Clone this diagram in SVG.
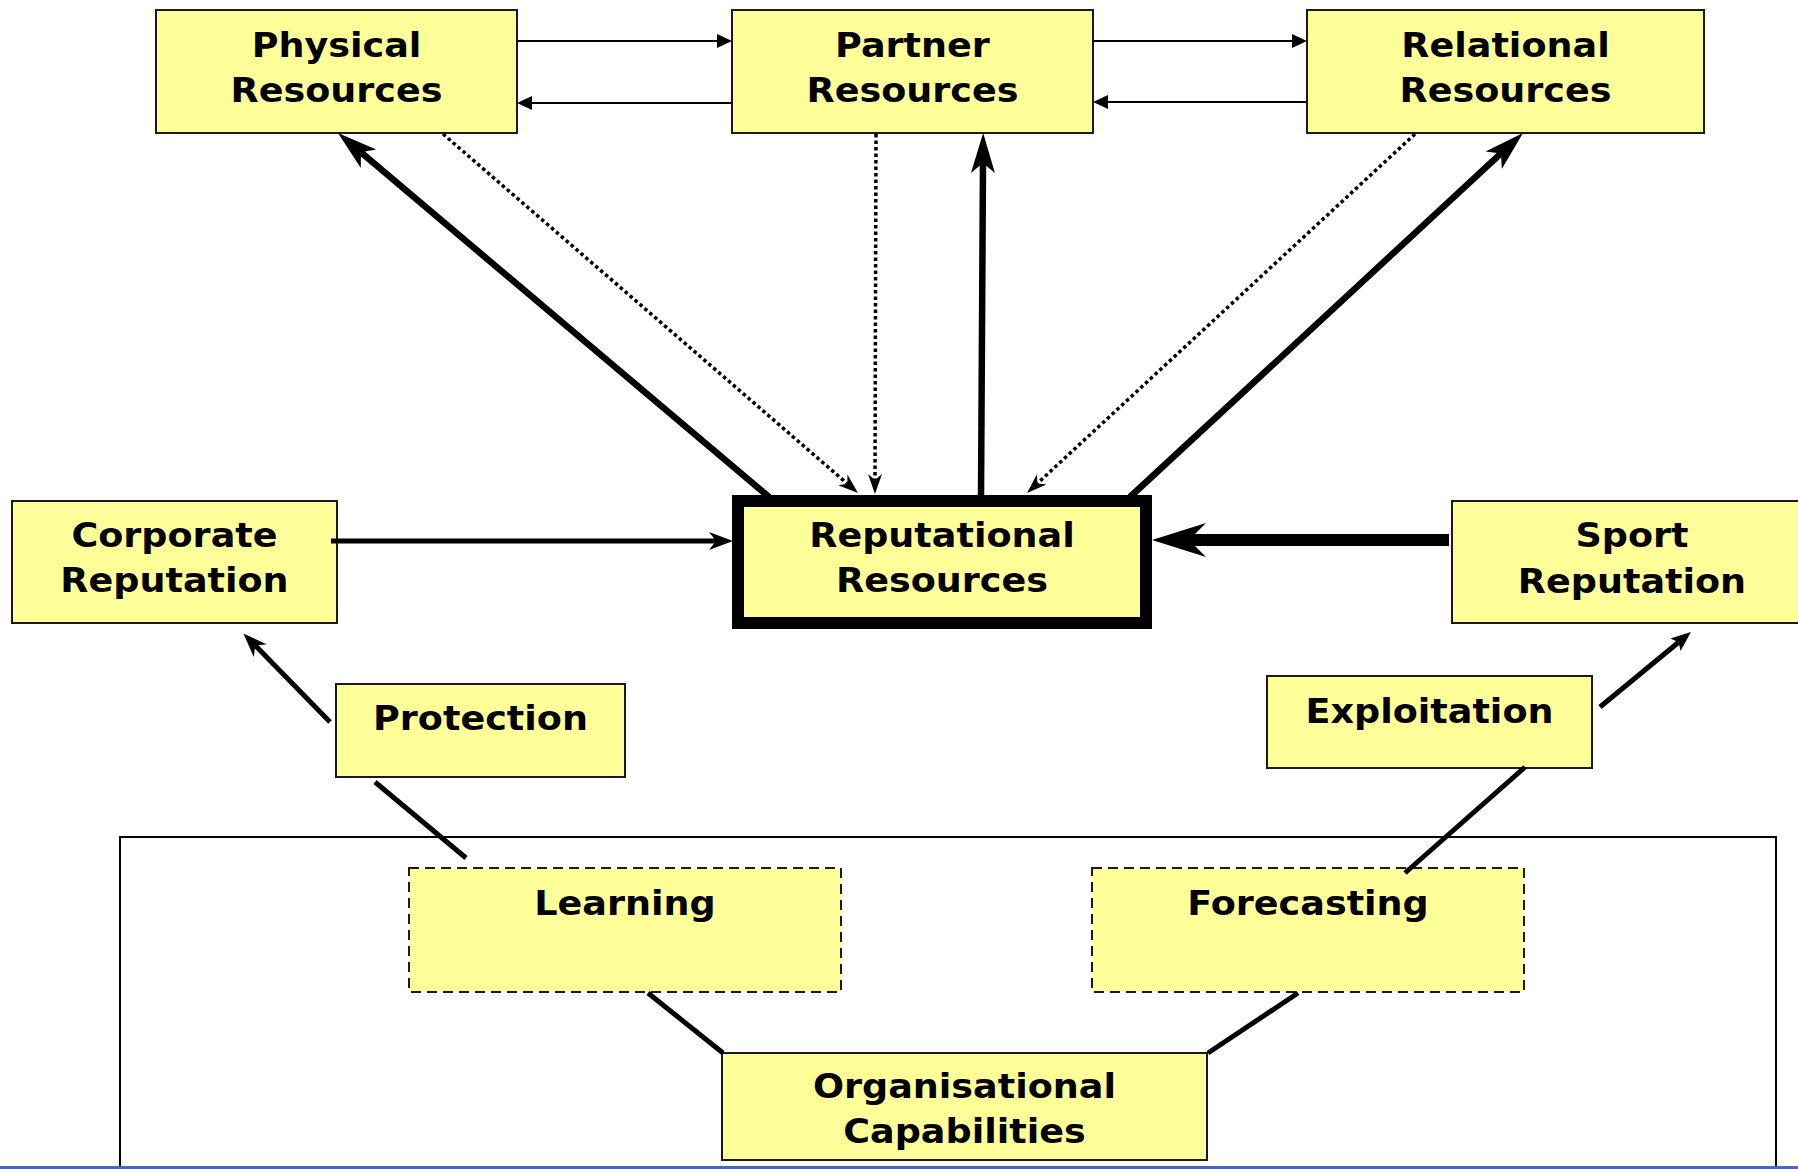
<svg xmlns="http://www.w3.org/2000/svg" width="1798" height="1169" viewBox="0 0 1798 1169">
<style>
.box{fill:#FFFF99;stroke:#1a1a1a;stroke-width:2}
.dbox{fill:#FFFF99;stroke:#1a1a1a;stroke-width:2;stroke-dasharray:10 6}
.t{font-family:"DejaVu Sans","Verdana",sans-serif;font-weight:bold;font-size:34px;fill:#000;text-anchor:middle;transform-box:fill-box;transform-origin:center;transform:scaleX(1.075)}
.thin{stroke:#000;stroke-width:2;fill:none}
.thick{stroke:#000;stroke-width:6.5;fill:none}
.med{stroke:#000;stroke-width:5;fill:none}
.dot{stroke:#000;stroke-width:3.5;stroke-dasharray:3.5 3;fill:none}
</style>
<defs>
<marker id="tri" markerUnits="userSpaceOnUse" overflow="visible" orient="auto" refX="0" refY="0" markerWidth="1" markerHeight="1">
<path d="M15,0 L0,-7 L0,7 Z" fill="#000"/>
</marker>
<marker id="big" markerUnits="userSpaceOnUse" overflow="visible" orient="auto" refX="0" refY="0" markerWidth="1" markerHeight="1">
<path d="M30,0 L-10,-12 L0,0 L-10,12 Z" fill="#000"/>
</marker>
<marker id="huge" markerUnits="userSpaceOnUse" overflow="visible" orient="auto" refX="0" refY="0" markerWidth="1" markerHeight="1">
<path d="M37,0 L-17,-17 L0,0 L-17,17 Z" fill="#000"/>
</marker>
<marker id="mid" markerUnits="userSpaceOnUse" overflow="visible" orient="auto" refX="0" refY="0" markerWidth="1" markerHeight="1">
<path d="M17,0 L-7,-9 L0,0 L-7,9 Z" fill="#000"/>
</marker>
<marker id="sm" markerUnits="userSpaceOnUse" overflow="visible" orient="auto" refX="0" refY="0" markerWidth="1" markerHeight="1">
<path d="M14,0 L-6,-7 L0,0 L-6,7 Z" fill="#000"/>
</marker>
<marker id="fill" markerUnits="userSpaceOnUse" overflow="visible" orient="auto" refX="0" refY="0" markerWidth="1" markerHeight="1">
<path d="M16,0 L-4,-8 L0,0 L-4,8 Z" fill="#000"/>
</marker>
</defs>
<rect x="0" y="0" width="1798" height="1169" fill="#fff"/>
<rect id="outer" x="120" y="837" width="1656" height="400" fill="none" stroke="#000" stroke-width="2"/>

<g id="physical"><rect class="box" x="156" y="10" width="361" height="123"/><text class="t" x="336.5" y="57">Physical</text><text class="t" x="336.5" y="102">Resources</text></g>
<g id="partner"><rect class="box" x="732" y="10" width="361" height="123"/><text class="t" x="912.5" y="57">Partner</text><text class="t" x="912.5" y="102">Resources</text></g>
<g id="relational"><rect class="box" x="1307" y="10" width="397" height="123"/><text class="t" x="1505.5" y="57">Relational</text><text class="t" x="1505.5" y="102">Resources</text></g>
<g id="corporate"><rect class="box" x="12" y="501" width="325" height="122"/><text class="t" x="174.5" y="547">Corporate</text><text class="t" x="174.5" y="592">Reputation</text></g>
<g id="reputational"><rect x="738" y="501" width="408" height="122" fill="#FFFF99" stroke="#000" stroke-width="12"/><text class="t" x="942" y="547">Reputational</text><text class="t" x="942" y="592">Resources</text></g>
<g id="sport"><rect class="box" x="1452" y="501" width="360" height="122"/><text class="t" x="1632" y="547">Sport</text><text class="t" x="1632" y="593">Reputation</text></g>
<g id="protection"><rect class="box" x="336" y="684" width="289" height="93"/><text class="t" x="480.5" y="730">Protection</text></g>
<g id="exploitation"><rect class="box" x="1267" y="676" width="325" height="92"/><text class="t" x="1429.5" y="723">Exploitation</text></g>
<g id="learning"><rect class="dbox" x="409" y="868" width="432" height="124"/><text class="t" x="625" y="915">Learning</text></g>
<g id="forecasting"><rect class="dbox" x="1092" y="868" width="432" height="124"/><text class="t" x="1308" y="915">Forecasting</text></g>
<g id="orgcap"><rect class="box" x="722" y="1053" width="485" height="107"/><text class="t" x="964.5" y="1098">Organisational</text><text class="t" x="964.5" y="1143">Capabilities</text></g>

<g id="connectors">
<path class="thin" d="M517,41 L717,41" marker-end="url(#tri)"/>
<path class="thin" d="M732,103 L532,103" marker-end="url(#tri)"/>
<path class="thin" d="M1093,41 L1292,41" marker-end="url(#tri)"/>
<path class="thin" d="M1307,102 L1108,102" marker-end="url(#tri)"/>
<path class="thick" d="M769,497 L360.9,152.3" marker-end="url(#big)"/>
<path class="thick" d="M981,497 L983,163" marker-end="url(#big)"/>
<path class="thick" d="M1130,497 L1501,153.4" marker-end="url(#big)"/>
<path class="dot" d="M443,134 L847.4,483.8" marker-end="url(#sm)"/>
<path class="dot" d="M876,134 L875,480" marker-end="url(#sm)"/>
<path class="dot" d="M1415,134 L1037.3,483.5" marker-end="url(#sm)"/>
<path class="med" d="M331,541 L716,541" marker-end="url(#mid)"/>
<path stroke="#000" stroke-width="12" fill="none" d="M1449,540 L1189,540" marker-end="url(#huge)"/>
<path class="med" d="M330,722 L255.3,645.6" marker-end="url(#mid)"/>
<path class="med" d="M1600,707 L1678.6,642.2" marker-end="url(#fill)"/>
<path class="med" d="M375,782 L466,858"/>
<path class="med" d="M1525,767 L1405,873"/>
<path class="med" d="M648,993 L723,1053"/>
<path class="med" d="M1298,993 L1208,1053"/>
</g>
<rect id="bottom-bar" x="0" y="1166" width="1798" height="3" fill="#4a67b0"/>
</svg>
